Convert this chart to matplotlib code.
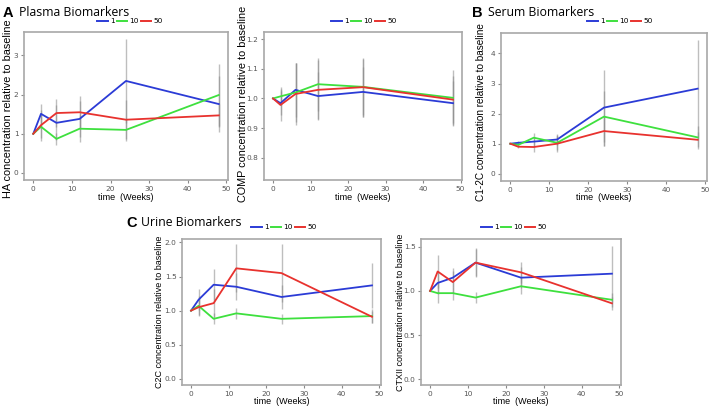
import matplotlib
matplotlib.use("Agg")
import matplotlib.pyplot as plt
from matplotlib.lines import Line2D

weeks = [0, 2, 6, 12, 24, 48]
doses = ["1", "10", "50"]
colors = ["#2b3bd6", "#3ee03e", "#e8322e"]

# HA (plasma)
ha_mean = {"1": [1.0, 1.51, 1.28, 1.38, 2.35, 1.76],
           "10": [1.0, 1.18, 0.87, 1.13, 1.10, 1.99],
           "50": [1.0, 1.22, 1.53, 1.55, 1.36, 1.47]}
ha_err = {"1": [0, 0.25, 0.45, 0.45, 1.07, 0.72],
          "10": [0, 0.30, 0.16, 0.35, 0.28, 0.80],
          "50": [0, 0.40, 0.36, 0.42, 0.50, 0.30]}
# COMP (plasma)
comp_mean = {"1": [1.0, 0.984, 1.029, 1.008, 1.022, 0.984],
             "10": [1.0, 1.007, 1.020, 1.048, 1.039, 1.002],
             "50": [1.0, 0.978, 1.015, 1.029, 1.038, 0.996]}
comp_err = {"1": [0, 0.040, 0.090, 0.080, 0.085, 0.075],
            "10": [0, 0.030, 0.100, 0.090, 0.095, 0.095],
            "50": [0, 0.055, 0.105, 0.100, 0.100, 0.080]}
# C1-2C (serum)
c12c_mean = {"1": [1.0, 1.03, 1.07, 1.14, 2.20, 2.83],
             "10": [1.0, 0.96, 1.20, 1.03, 1.90, 1.21],
             "50": [1.0, 0.90, 0.89, 1.00, 1.42, 1.13]}
c12c_err = {"1": [0, 0.05, 0.15, 0.18, 1.26, 1.63],
            "10": [0, 0.05, 0.14, 0.25, 0.85, 0.37],
            "50": [0, 0.05, 0.16, 0.27, 0.50, 0.25]}
# C2C (urine)
c2c_mean = {"1": [1.0, 1.16, 1.38, 1.35, 1.20, 1.37],
            "10": [1.0, 1.07, 0.88, 0.96, 0.88, 0.92],
            "50": [1.0, 1.05, 1.11, 1.62, 1.55, 0.91]}
c2c_err = {"1": [0, 0.15, 0.23, 0.20, 0.18, 0.33],
           "10": [0, 0.15, 0.08, 0.08, 0.07, 0.10],
           "50": [0, 0.12, 0.20, 0.35, 0.42, 0.09]}
# CTXII (urine)
ctx_mean = {"1": [1.0, 1.09, 1.15, 1.32, 1.15, 1.195],
            "10": [1.0, 0.975, 0.975, 0.925, 1.053, 0.90],
            "50": [1.0, 1.22, 1.10, 1.32, 1.21, 0.86]}
ctx_err = {"1": [0, 0.12, 0.11, 0.16, 0.12, 0.315],
           "10": [0, 0.115, 0.075, 0.065, 0.09, 0.08],
           "50": [0, 0.19, 0.12, 0.15, 0.12, 0.07]}

W, H = 709, 408
fig = plt.figure(figsize=(W / 100, H / 100), dpi=100)
fig.patch.set_facecolor("white")


def rect(x0, y0, x1, y1):
    return [x0 / W, 1 - y1 / H, (x1 - x0) / W, (y1 - y0) / H]


def panel(r, means, errs, ylabel, ylim, yticks, ytl, ylab_xy, lab_fs, xlab_y, legend_xy):
    ax = fig.add_axes(rect(*r))
    for d, c in zip(doses, colors):
        m = means[d]
        e = errs[d]
        ax.vlines(weeks, [a - b for a, b in zip(m, e)], [a + b for a, b in zip(m, e)],
                  colors="#8a8a8a", linewidth=1.0, alpha=0.55, zorder=1)
    for d, c in zip(doses, colors):
        ax.plot(weeks, means[d], color=c, linewidth=1.3, zorder=3)
    ax.set_xlim(-2.4, 50.4)
    ax.set_ylim(*ylim)
    ax.set_xticks([0, 10, 20, 30, 40, 50])
    ax.set_yticks(yticks)
    ax.set_yticklabels(ytl)
    for s in ax.spines.values():
        s.set_color("#a8a8a8")
        s.set_linewidth(1.2)
    ax.tick_params(colors="#8a8a8a", labelcolor="#555555", labelsize=5.3,
                   length=2.5, width=0.8, pad=1.5)
    ax.set_xlabel("time  (Weeks)", fontsize=6.5, family="Liberation Sans")
    ax.set_ylabel(ylabel, fontsize=lab_fs, family="Liberation Sans")
    bb = ax.get_position()
    ax.yaxis.set_label_coords((ylab_xy[0] / W - bb.x0) / bb.width,
                              ((1 - ylab_xy[1] / H) - bb.y0) / bb.height)
    ax.xaxis.set_label_coords(0.5, ((1 - xlab_y / H) - bb.y0) / bb.height)
    ax.xaxis.label.set_va("center")
    ax.yaxis.label.set_va("center")
    handles = [Line2D([0], [0], color=c, lw=1.4) for c in colors]
    fig.legend(handles, doses, loc="center", ncol=3,
               bbox_to_anchor=(legend_xy[0] / W, 1 - legend_xy[1] / H),
               frameon=False, fontsize=5.3, handlelength=1.4, handletextpad=0.3,
               columnspacing=0.3, borderpad=0)
    return ax


panel((24, 32, 228, 180), ha_mean, ha_err, "HA concentration relative to baseline",
      (-0.18, 3.6), [0, 1, 2, 3], ["0", "1", "2", "3"], (8, 109), 7.8, 197, (130, 21))
panel((264, 32, 462, 180), comp_mean, comp_err, "COMP concentration relative to baseline",
      (0.725, 1.224), [0.8, 0.9, 1.0, 1.1, 1.2], ["0.8", "0.9", "1.0", "1.1", "1.2"],
      (243, 104), 7.8, 197, (364, 21))
panel((501, 33, 707, 181), c12c_mean, c12c_err, "C1-2C concentration relative to baseline",
      (-0.24, 4.68), [0, 1, 2, 3, 4], ["0", "1", "2", "3", "4"], (481, 112), 7.2, 197, (620, 21))
panel((182, 239, 381, 385), c2c_mean, c2c_err, "C2C concentration relative to baseline",
      (-0.09, 2.05), [0.0, 0.5, 1.0, 1.5, 2.0], ["0.0", "0.5", "1.0", "1.5", "2.0"],
      (160, 312), 6.5, 401, (284, 227))
panel((421, 239, 621, 385), ctx_mean, ctx_err, "CTXII concentration relative to baseline",
      (-0.063, 1.587), [0.0, 0.5, 1.0, 1.5], ["0.0", "0.5", "1.0", "1.5"],
      (400, 312), 6.5, 401, (514, 227))

# Panel titles
fig.text(3 / W, 1 - 13 / H, "A", fontsize=10.5, fontweight="bold", family="Liberation Sans",
         va="center", ha="left")
fig.text(19 / W, 1 - 13 / H, "Plasma Biomarkers", fontsize=8.8, family="Open Sans",
         va="center", ha="left")
fig.text(472 / W, 1 - 13 / H, "B", fontsize=10.5, fontweight="bold", family="Liberation Sans",
         va="center", ha="left")
fig.text(488 / W, 1 - 13 / H, "Serum Biomarkers", fontsize=8.8, family="Open Sans",
         va="center", ha="left")
fig.text(126 / W, 1 - 223 / H, "C", fontsize=10.5, fontweight="bold", family="Liberation Sans",
         va="center", ha="left")
fig.text(141 / W, 1 - 223 / H, "Urine Biomarkers", fontsize=8.8, family="Open Sans",
         va="center", ha="left")

fig.savefig("out.png", dpi=100)
